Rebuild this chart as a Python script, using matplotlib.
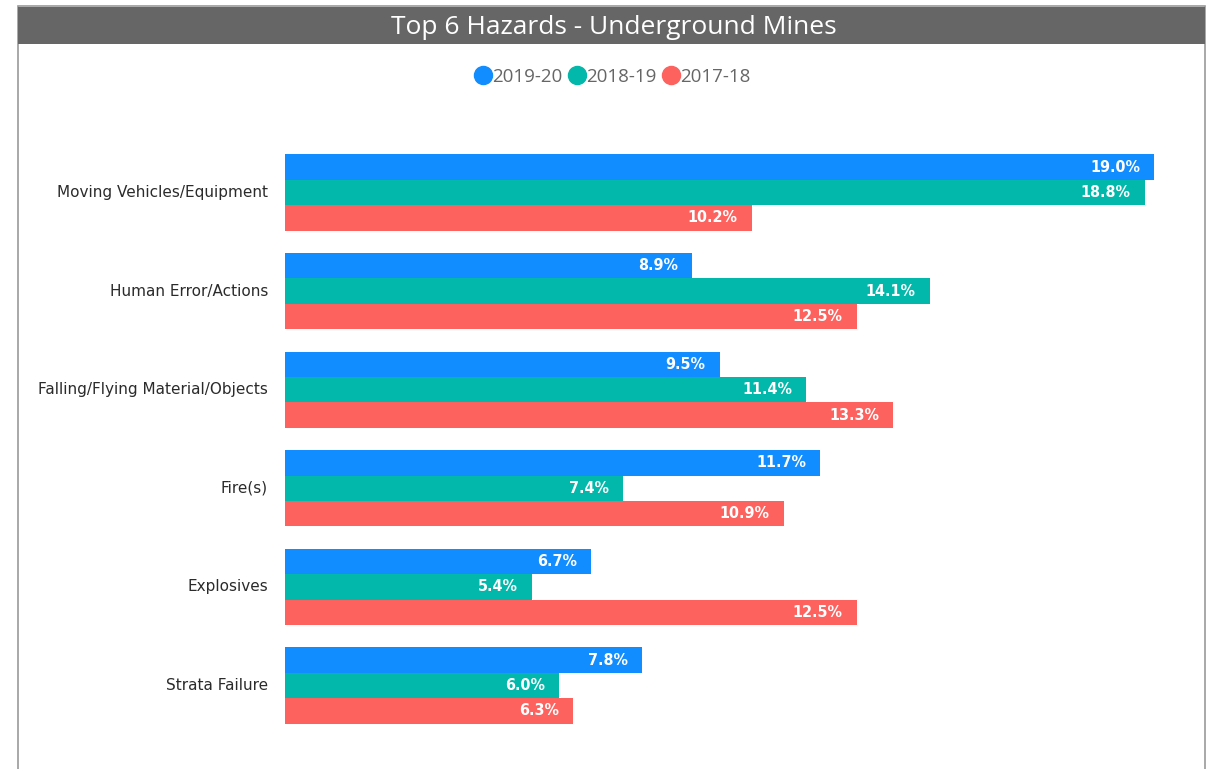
import numpy as np
import matplotlib.pyplot as plt
from matplotlib.patches import Rectangle
from matplotlib.lines import Line2D

categories = ["Moving Vehicles/Equipment", "Human Error/Actions",
              "Falling/Flying Material/Objects", "Fire(s)",
              "Explosives", "Strata Failure"]
series_names = ["2019-20", "2018-19", "2017-18"]
vals_1920 = [19.0, 8.9, 9.5, 11.7, 6.7, 7.8]
vals_1819 = [18.8, 14.1, 11.4, 7.4, 5.4, 6.0]
vals_1718 = [10.2, 12.5, 13.3, 10.9, 12.5, 6.3]
colors = ["#118DFF", "#01B8AA", "#FD625E"]

W, H = 1213, 769
fig = plt.figure(figsize=(W / 100, H / 100), dpi=100)

# background axes for the panel frame and title bar
bg = fig.add_axes([0, 0, 1, 1], zorder=-1)
bg.set_xlim(0, W)
bg.set_ylim(H, 0)
bg.axis("off")
bg.add_patch(Rectangle((18, 6), 1187, H + 20, facecolor="white", edgecolor="#9a9a9a", lw=1.2))
bg.add_patch(Rectangle((18, 7), 1187, 37, facecolor="#666666", edgecolor="none"))
bg.text(614, 28, "Top 6 Hazards - Underground Mines", color="white",
        fontsize=19, family="Open Sans", ha="center", va="center")

# bar axes: 45.74 px per percentage point, left edge at x=285
px_per_unit = (1154 - 285) / 19.0
xmax = 20.0
ax_top, ax_bot = 143.2, 734.8
ax = fig.add_axes([285 / W, 1 - ax_bot / H, xmax * px_per_unit / W, (ax_bot - ax_top) / H])
ax.set_xlim(0, xmax)
ax.set_ylim(5.5, -0.5)
ax.axis("off")

h = 0.257
y = np.arange(len(categories))
series = [vals_1920, vals_1819, vals_1718]
for k, (vals, col, name) in enumerate(zip(series, colors, series_names)):
    pos = y + (k - 1) * h
    bars = ax.barh(pos, vals, height=h, color=col, label=name)
    for b, v in zip(bars, vals):
        ax.annotate(f"{v:.1f}%", xy=(v, b.get_y() + b.get_height() / 2),
                    xytext=(-14, 0), textcoords="offset pixels",
                    ha="right", va="center", color="white",
                    fontsize=11.5, fontweight="bold", family="DejaVu Sans",
                    fontstretch="condensed")

for yi, cat in zip(y, categories):
    ax.annotate(cat, xy=(0, yi), xytext=(-17, 0), textcoords="offset pixels",
                ha="right", va="center", fontsize=11, color="#2b2b2b",
                family="DejaVu Sans", annotation_clip=False)

handles = [Line2D([], [], marker="o", ls="none", color=c, markersize=13) for c in colors]
fig.legend(handles, series_names, loc="center", bbox_to_anchor=(612 / W, 1 - 77 / H),
           ncol=3, frameon=False, handletextpad=0.0, columnspacing=0.25,
           handlelength=1.0, prop={"family": "Open Sans", "size": 13.5},
           labelcolor="#666666")

fig.savefig("out.png", dpi=100)
